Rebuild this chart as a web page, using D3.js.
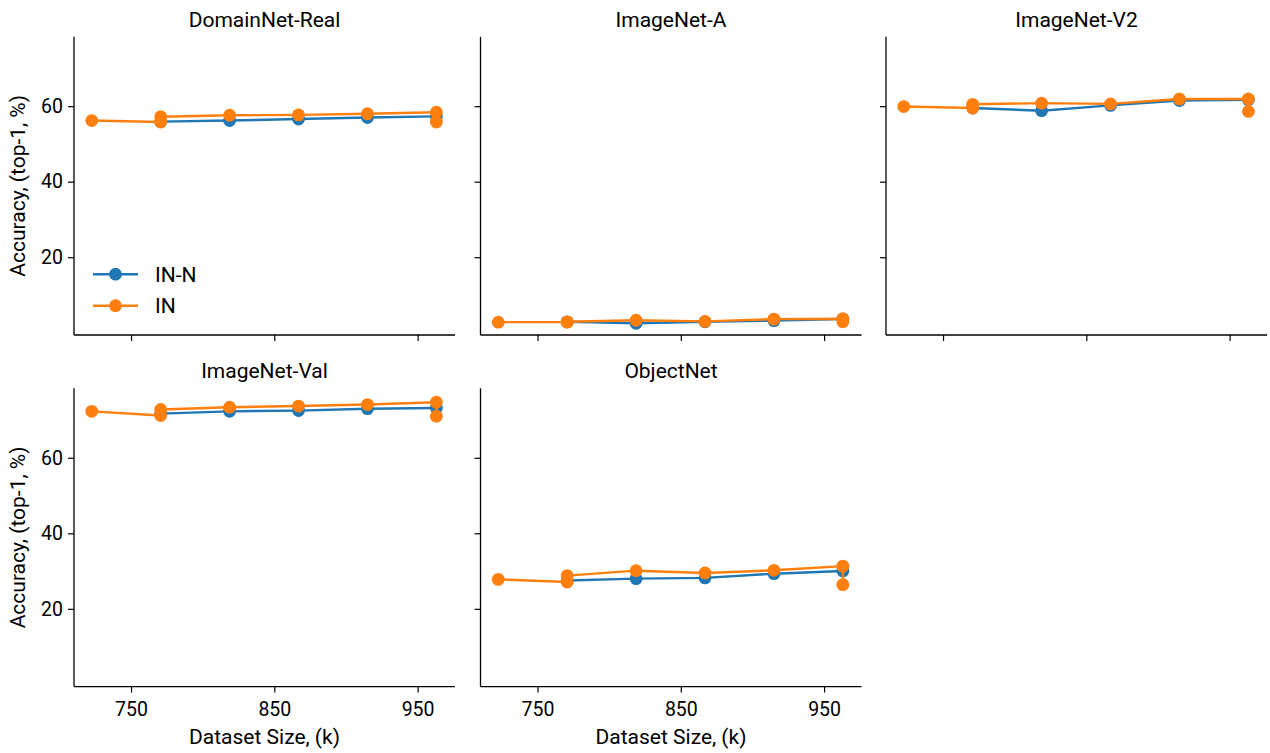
<!DOCTYPE html>
<html>
<head>
<meta charset="utf-8">
<script src="https://cdn.jsdelivr.net/npm/d3@7"></script>
<style>
  html, body { margin: 0; padding: 0; background: #fff; }
  svg { display: block; font-family: Roboto, "Liberation Sans", sans-serif; }
</style>
</head>
<body>
<svg id="chart" width="1270" height="753"></svg>
<script>
// Dataset sizes (k). IN repeats the 770k and 963k points, so its line doubles back there.
const innSizes = [770.7, 818.8, 866.9, 915.0, 963.1];
const inSizes = [722.6, 770.7, 770.7, 818.8, 866.9, 915.0, 963.1, 963.1];

const benchmarks = ['DomainNet-Real', 'ImageNet-A', 'ImageNet-V2', 'ImageNet-Val', 'ObjectNet'];

// top-1 accuracy (%) per benchmark
const innDomainNet = [55.9, 56.2, 56.6, 57.0, 57.3];
const inDomainNet = [56.2, 55.8, 57.2, 57.6, 57.7, 58.0, 58.4, 55.8];
const innImageNetA = [2.9, 2.5, 2.9, 3.2, 3.6];
const inImageNetA = [2.8, 2.8, 2.9, 3.3, 3.0, 3.6, 3.7, 2.9];
const innImageNetV2 = [59.5, 58.8, 60.2, 61.5, 61.7];
const inImageNetV2 = [59.9, 59.5, 60.5, 60.8, 60.6, 61.9, 61.9, 58.6];
const innImageNetVal = [71.7, 72.3, 72.5, 73.0, 73.2];
const inImageNetVal = [72.3, 71.2, 72.8, 73.4, 73.7, 74.1, 74.7, 71.0];
const innObjectNet = [27.5, 28.0, 28.2, 29.3, 30.0];
const inObjectNet = [27.8, 27.1, 28.8, 30.1, 29.5, 30.2, 31.3, 26.4];

const innSeries = [innDomainNet, innImageNetA, innImageNetV2, innImageNetVal, innObjectNet];
const inSeries = [inDomainNet, inImageNetA, inImageNetV2, inImageNetVal, inObjectNet];

const xTicks = [750, 850, 950];
const yTicks = [20, 40, 60];

const seriesMeta = [
  { name: 'IN-N', color: '#1f77b4' },
  { name: 'IN', color: '#ff7f0e' },
];

const svg = d3.select('#chart');
const tickFont = 19.5;
const labelFont = 21;

// panel grid (matplotlib-like subplots, 2 rows x 3 cols, shared axes)
const colX = [74, 480.5, 886];
const rowY = [36.7, 388.3];
const pw = 381;
const ph = 298.3;

const x = d3.scaleLinear().domain([710.2, 976.1]).range([0, pw]);
const y = d3.scaleLinear().domain([-0.6, 78.4]).range([ph, 0]);

const line = d3.line().x((d) => x(d[0])).y((d) => y(d[1]));

benchmarks.forEach((title, i) => {
  const row = Math.floor(i / 3);
  const col = i % 3;
  const g = svg.append('g').attr('transform', `translate(${colX[col]},${rowY[row]})`);

  // tick labels only on the outer panels (shared axes)
  const xAxis = d3.axisBottom(x).tickValues(xTicks).tickSize(6).tickPadding(5)
    .tickFormat(row === 1 ? d3.format('d') : '');
  const yAxis = d3.axisLeft(y).tickValues(yTicks).tickSize(6).tickPadding(5)
    .tickFormat(col === 0 ? d3.format('d') : '');

  const gx = g.append('g').attr('transform', `translate(0,${ph})`).call(xAxis);
  const gy = g.append('g').call(yAxis);
  [gx, gy].forEach((a) => {
    a.select('.domain').attr('stroke', '#000').attr('stroke-width', 1.3)
      .attr('d', a === gx ? `M0,0H${pw}` : `M0,0V${ph}`);
    a.selectAll('.tick line').attr('stroke', '#000').attr('stroke-width', 1.2);
    a.selectAll('.tick text').attr('fill', '#000').style('font-size', `${tickFont}px`)
      .style('font-family', 'Roboto, "Liberation Sans", sans-serif');
  });
  gx.selectAll('.tick text').attr('dy', '0.95em');

  const pairs = [
    innSizes.map((s, k) => [s, innSeries[i][k]]),
    inSizes.map((s, k) => [s, inSeries[i][k]]),
  ];
  pairs.forEach((pts, s) => {
    const c = seriesMeta[s].color;
    g.append('path').datum(pts).attr('d', line)
      .attr('fill', 'none').attr('stroke', c).attr('stroke-width', 2.4)
      .attr('stroke-linejoin', 'round');
    g.selectAll(null).data(pts).join('circle')
      .attr('cx', (d) => x(d[0])).attr('cy', (d) => y(d[1]))
      .attr('r', 6.4).attr('fill', c);
  });

  g.append('text')
    .attr('x', pw / 2).attr('y', -10)
    .attr('text-anchor', 'middle')
    .style('font-size', `${labelFont}px`)
    .text(title);

  if (col === 0) {
    g.append('text')
      .attr('transform', `translate(-49,${ph / 2}) rotate(-90)`)
      .attr('text-anchor', 'middle')
      .style('font-size', `${labelFont}px`)
      .text('Accuracy, (top-1, %)');
  }
  if (row === 1) {
    g.append('text')
      .attr('x', pw / 2).attr('y', ph + 57)
      .attr('text-anchor', 'middle')
      .style('font-size', `${labelFont}px`)
      .text('Dataset Size, (k)');
  }

  if (i === 0) {
    const lg = g.append('g').attr('transform', 'translate(19,237.5)');
    seriesMeta.forEach((m, k) => {
      const item = lg.append('g').attr('transform', `translate(0,${k * 31.5})`);
      item.append('line').attr('x1', 0).attr('x2', 45).attr('y1', 0).attr('y2', 0)
        .attr('stroke', m.color).attr('stroke-width', 2.4);
      item.append('circle').attr('cx', 22.5).attr('cy', 0).attr('r', 6.4).attr('fill', m.color);
      item.append('text').attr('x', 62).attr('y', 0).attr('dy', '0.35em')
        .style('font-size', `${labelFont}px`).text(m.name);
    });
  }
});
</script>
</body>
</html>
